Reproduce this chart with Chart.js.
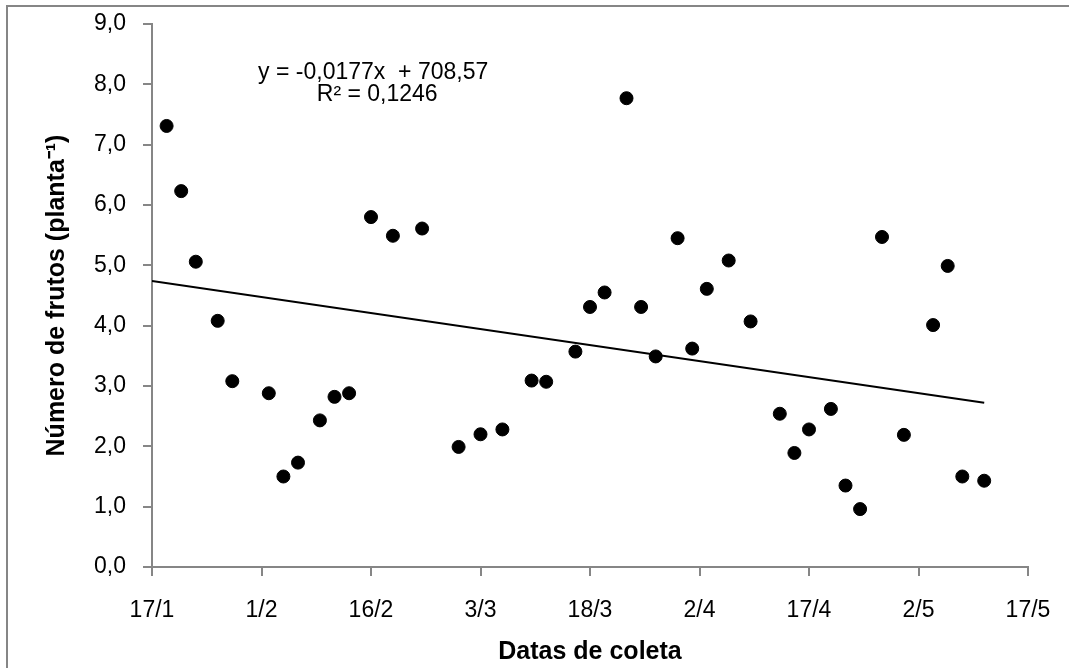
<!DOCTYPE html>
<html lang="pt">
<head>
<meta charset="utf-8">
<title>Número de frutos por data de coleta</title>
<script src="https://cdn.jsdelivr.net/npm/chart.js@4/dist/chart.umd.min.js"></script>
<style>
  html, body { margin: 0; padding: 0; background: #fff; }
  #wrap { position: relative; width: 1069px; height: 668px; }
</style>
</head>
<body>
<div id="wrap"><canvas id="frutosChart" width="1069" height="668"></canvas></div>
<script>
// --- Dados: dias contados a partir de 17/1 e número de frutos por planta ---
const diasColeta = [2, 4, 6, 9, 11, 16, 18, 20, 23, 25, 27, 30, 33, 37, 42, 45, 48, 52, 54, 58, 60,
                    62, 65, 67, 69, 72, 74, 76, 79, 82, 86, 88, 90, 93, 95, 97, 100, 103, 107, 109, 111, 114];
const numFrutos = [7.31, 6.23, 5.06, 4.08, 3.08, 2.88, 1.50, 1.73, 2.43, 2.82, 2.88, 5.80, 5.49, 5.61, 1.99, 2.20, 2.28, 3.09, 3.07, 3.57, 4.31,
                   4.55, 7.77, 4.31, 3.49, 5.45, 3.62, 4.61, 5.08, 4.07, 2.54, 1.89, 2.28, 2.62, 1.35, 0.96, 5.47, 2.19, 4.01, 4.99, 1.50, 1.43];

// rótulos do eixo X (a cada 15 dias)
const rotulosDatas = ['17/1', '1/2', '16/2', '3/3', '18/3', '2/4', '17/4', '2/5', '17/5'];

// linha de tendência: inclinação da equação (frutos/dia) e valor no início do eixo (17/1)
const inclinacao = -0.0177;
const tendenciaInicio = 4.74;
const tendenciaDias = [0, 114];
const textoEquacao = 'y = -0,0177x  + 708,57';
const textoR2 = 'R² = 0,1246';

const pontos = diasColeta.map((d, i) => ({ x: d, y: numFrutos[i] }));
const tendencia = tendenciaDias.map(d => ({ x: d, y: tendenciaInicio + inclinacao * d }));

const CINZA = '#868686';
const fonteBase = "'Liberation Sans', Arial, sans-serif";

// moldura externa e texto da equação
const extrasPlugin = {
  id: 'extras',
  beforeDraw(chart) {
    const ctx = chart.ctx;
    ctx.save();
    ctx.fillStyle = '#fff';
    ctx.fillRect(0, 0, chart.width, chart.height);
    ctx.strokeStyle = CINZA;
    ctx.lineWidth = 2;
    ctx.strokeRect(7, 6, chart.width + 20, chart.height + 20);
    ctx.restore();
  },
  afterDraw(chart) {
    const ctx = chart.ctx;
    const x = chart.scales.x.getPixelForValue(30.3);
    const y = chart.scales.y.getPixelForValue(8.2);
    ctx.save();
    ctx.fillStyle = '#000';
    ctx.font = '23px ' + fonteBase;
    ctx.textAlign = 'center';
    ctx.textBaseline = 'middle';
    ctx.fillText(textoEquacao, x, y);
    ctx.fillText(textoR2, x + 4, y + 22);
    ctx.restore();
  }
};

new Chart(document.getElementById('frutosChart'), {
  type: 'scatter',
  data: {
    datasets: [
      {
        label: 'Número de frutos',
        data: pontos,
        backgroundColor: '#000',
        borderColor: '#000',
        pointRadius: 6.5,
        pointHoverRadius: 6.5,
        showLine: false
      },
      {
        label: 'Linear',
        data: tendencia,
        showLine: true,
        borderColor: '#000',
        borderWidth: 2,
        pointRadius: 0,
        fill: false
      }
    ]
  },
  options: {
    responsive: false,
    animation: false,
    events: [],
    layout: { padding: { top: 24, right: 41, left: 0, bottom: 0 } },
    plugins: {
      legend: { display: false },
      tooltip: { enabled: false }
    },
    scales: {
      x: {
        type: 'linear',
        min: 0,
        max: 120,
        afterFit(scale) {
          scale.height = 101;
          scale.paddingLeft = 0;
          scale.paddingRight = 0;
        },
        afterBuildTicks(scale) {
          scale.ticks = rotulosDatas.map((_, i) => ({ value: i * 15 }));
        },
        ticks: {
          color: '#000',
          padding: 21,
          maxRotation: 0,
          autoSkip: false,
          font: { family: fonteBase, size: 23 },
          callback: (v) => rotulosDatas[Math.round(v / 15)]
        },
        grid: { drawOnChartArea: false, color: CINZA, lineWidth: 2, tickLength: 9 },
        border: { color: CINZA, width: 2 },
        title: {
          display: true,
          text: 'Datas de coleta',
          color: '#000',
          font: { family: fonteBase, size: 25, weight: 'bold' },
          padding: { top: 0, bottom: 1 }
        }
      },
      y: {
        min: 0,
        max: 9,
        afterFit(scale) {
          scale.width = 152;
          scale.paddingTop = 0;
          scale.paddingBottom = 0;
        },
        ticks: {
          stepSize: 1,
          color: '#000',
          padding: 17,
          font: { family: fonteBase, size: 23 },
          callback: (v) => v.toFixed(1).replace('.', ',')
        },
        grid: { drawOnChartArea: false, color: CINZA, lineWidth: 2, tickLength: 9 },
        border: { color: CINZA, width: 2 },
        title: {
          display: true,
          text: 'Número de frutos (planta⁻¹)',
          color: '#000',
          font: { family: fonteBase, size: 25, weight: 'bold' },
          padding: { top: 42, bottom: 0 }
        }
      }
    }
  },
  plugins: [extrasPlugin]
});
</script>
</body>
</html>
